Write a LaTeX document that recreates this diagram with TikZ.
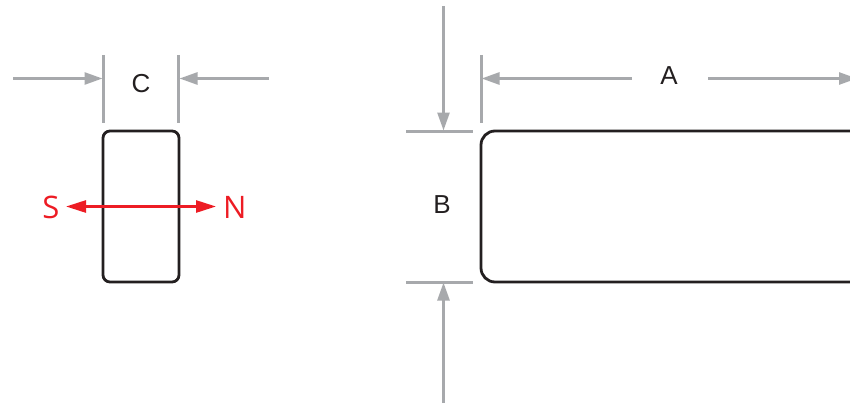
\documentclass[tikz,border=0pt]{standalone}
\usepackage{fontspec}
\setmainfont{Liberation Sans}
\newfontfamily\polefont{Open Sans}
\usetikzlibrary{arrows.meta}
\definecolor{dimgray}{HTML}{A7A9AC}
\definecolor{outline}{HTML}{231F20}
\definecolor{polered}{HTML}{ED1C24}
\tikzset{
  dimline/.style={draw=dimgray,line width=2.6pt},
  dimarrow/.style={dimline,-{Triangle[length=18pt,width=12pt,fill=dimgray]}},
  magnet/.style={draw=outline,line width=2.8pt,rectangle,inner sep=0pt,outer sep=0pt,anchor=north west},
  label/.style={text=outline,font=\fontsize{26}{26}\selectfont,inner sep=0pt},
  pole/.style={text=polered,font=\polefont\fontsize{31}{31}\selectfont,inner sep=0pt},
  polearrow/.style={draw=polered,line width=2.6pt,{Triangle[length=20pt,width=12pt,fill=polered]}-{Triangle[length=20pt,width=12pt,fill=polered]}}
}
\begin{document}
\begin{tikzpicture}[x=1pt,y=-1pt]
\useasboundingbox (0,0) rectangle (850,404);
\clip (0,0) rectangle (850,404);
% magnets
\node[magnet,minimum width=76pt,minimum height=151pt,rounded corners=7pt] (end) at (103,131) {};
\node[magnet,minimum width=384pt,minimum height=151pt,rounded corners=14pt] (face) at (481,131) {};
% labels
\node[label] (C) at (141,84) {C};
\node[label] (A) at (669,75.5) {A};
\node[label] (B) at (442,204.5) {B};
\node[pole] (S) at (51,207.5) {S};
\node[pole] (N) at (234.8,207.5) {N};
% free ends
\coordinate (c1t) at (103.5,55); \coordinate (c1b) at (103.5,123);
\coordinate (c2t) at (178.5,55); \coordinate (c2b) at (178.5,123);
\coordinate (a1t) at (481.5,55); \coordinate (a1b) at (481.5,123);
\coordinate (b1l) at (406,131.5); \coordinate (b1r) at (473,131.5);
\coordinate (b2l) at (406,282.5); \coordinate (b2r) at (473,282.5);
\coordinate (c1s) at (13,78.5); \coordinate (c1e) at (102.5,78.5);
\coordinate (c2s) at (269,78.5); \coordinate (c2e) at (179.5,78.5);
\coordinate (a1s) at (632,78.5); \coordinate (a1e) at (481.5,78.5);
\coordinate (a2s) at (708,78.5); \coordinate (a2e) at (857,78.5);
\coordinate (b1s) at (443.5,6); \coordinate (b1e) at (443.5,130.5);
\coordinate (b2s) at (443.5,403); \coordinate (b2e) at (443.5,282.5);
\coordinate (ps) at (66,206.5); \coordinate (pn) at (216,206.5);
% extension lines
\draw[dimline] (c1t) -- (c1b);
\draw[dimline] (c2t) -- (c2b);
\draw[dimline] (a1t) -- (a1b);
\draw[dimline] (b1l) -- (b1r);
\draw[dimline] (b2l) -- (b2r);
% dimension arrows
\draw[dimarrow] (c1s) -- (c1e);
\draw[dimarrow] (c2s) -- (c2e);
\draw[dimarrow] (a1s) -- (a1e);
\draw[dimarrow] (a2s) -- (a2e);
\draw[dimarrow] (b1s) -- (b1e);
\draw[dimarrow] (b2s) -- (b2e);
% polarity
\draw[polearrow] (ps) -- (pn);
\end{tikzpicture}
\end{document}
